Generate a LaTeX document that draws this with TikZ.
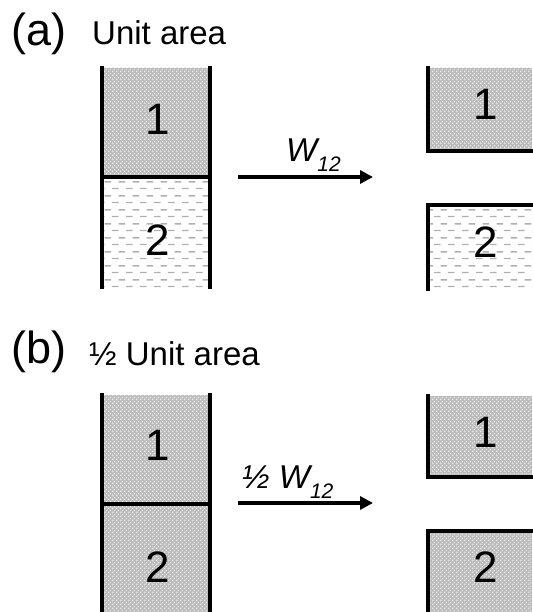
\documentclass[tikz,border=0pt]{standalone}
\usepackage{fontspec}
\setmainfont{Liberation Sans}
\usetikzlibrary{patterns.meta,arrows.meta}

\definecolor{boxgray}{HTML}{BDBDBD}
\definecolor{dotgray}{HTML}{E8E8E8}
\definecolor{dashgray}{HTML}{B0B0B0}

% fine dotted texture of the grey cells
\tikzdeclarepattern{
  name=stipple, type=uncolored,
  bottom left={(0pt,0pt)}, top right={(4pt,4pt)}, tile size={(4pt,4pt)},
  code={\fill (0.3pt,0.3pt) rectangle (1.7pt,1.7pt);
        \fill (2.3pt,2.3pt) rectangle (3.7pt,3.7pt);}
}
% staggered rows of short dashes
\tikzdeclarepattern{
  name=brickdash, type=uncolored,
  bottom left={(0pt,0pt)}, top right={(14pt,14pt)}, tile size={(14pt,14pt)},
  code={\fill (0pt,3pt) rectangle (7pt,4.5pt);
        \fill (7pt,10pt) rectangle (14pt,11.5pt);}
}

\tikzset{
  cellgray/.style={preaction={fill=boxgray}, pattern=stipple, pattern color=dotgray},
  celldash/.style={pattern=brickdash, pattern color=dashgray},
  wall/.style={line width=4pt, line cap=rect},
  num/.style={font=\fontsize{44}{50}\selectfont, inner sep=0pt, anchor=base},
  tag/.style={font=\fontsize{45}{52}\selectfont, inner sep=0pt, anchor=base west},
  caption/.style={font=\fontsize{33}{38}\selectfont, inner sep=0pt, anchor=base west},
  flowlabel/.style={font=\fontsize{33}{38}\selectfont\itshape, inner sep=0pt, anchor=base west},
  flow/.style={line width=3.5pt, -{Triangle[length=13pt,width=13pt]}},
}
\newcommand{\subtwelve}{\raisebox{-10pt}{\fontsize{21}{24}\selectfont 12}}

\begin{document}
\begin{tikzpicture}[x=1pt,y=-1pt]
\useasboundingbox (0,0) rectangle (532,612);

% ---------------- (a) unit area ----------------
\node[tag] (tagA) at (11,46) {(a)};
\node[caption] (capA) at (92,45) {Unit area};

% left column: two stacked cells
\path[cellgray] (102,68) rectangle (210,177);
\path[celldash] (102,177) rectangle (210,287);
\draw[wall] (102,68) -- (102,287);
\draw[wall] (210,68) -- (210,287);
\draw[wall] (102,177) -- (210,177);
\node[num] (a1) at (158,135) {1};
\node[num] (a2) at (158,255) {2};

% right column: separated cells
\path[cellgray] (428,68) rectangle (532,151);
\draw[wall] (428,68) -- (428,151) -- (534,151);
\node[num] (a1r) at (486,120) {1};
\path[celldash] (428,205) rectangle (532,287);
\draw[wall] (428,289) -- (428,205) -- (534,205);
\node[num] (a2r) at (486,257) {2};

% exchange arrow
\coordinate (aFrom) at (238,177);
\coordinate (aTo) at (373,177);
\draw[flow] (aFrom) -- (aTo);
\node[flowlabel] (aLab) at (286,162) {W\subtwelve};

% ---------------- (b) half unit area ----------------
\node[tag] (tagB) at (11,363) {(b)};
\node[caption] (capB) at (89,365) {½ Unit area};

% left column: two stacked cells
\path[cellgray] (102,395) rectangle (210,504);
\path[cellgray] (102,504) rectangle (210,614);
\draw[wall] (102,395) -- (102,614);
\draw[wall] (210,395) -- (210,614);
\draw[wall] (102,504) -- (210,504);
\node[num] (b1) at (158,460) {1};
\node[num] (b2) at (158,582) {2};

% right column: separated cells
\path[cellgray] (428,396) rectangle (532,477);
\draw[wall] (428,396) -- (428,477) -- (534,477);
\node[num] (b1r) at (486,447) {1};
\path[cellgray] (428,531) rectangle (532,614);
\draw[wall] (428,614) -- (428,531) -- (534,531);
\node[num] (b2r) at (486,582) {2};

% exchange arrow
\coordinate (bFrom) at (238,503);
\coordinate (bTo) at (373,503);
\draw[flow] (bFrom) -- (bTo);
\node[flowlabel] (bLab) at (242,488) {½ W\subtwelve};
\end{tikzpicture}
\end{document}
